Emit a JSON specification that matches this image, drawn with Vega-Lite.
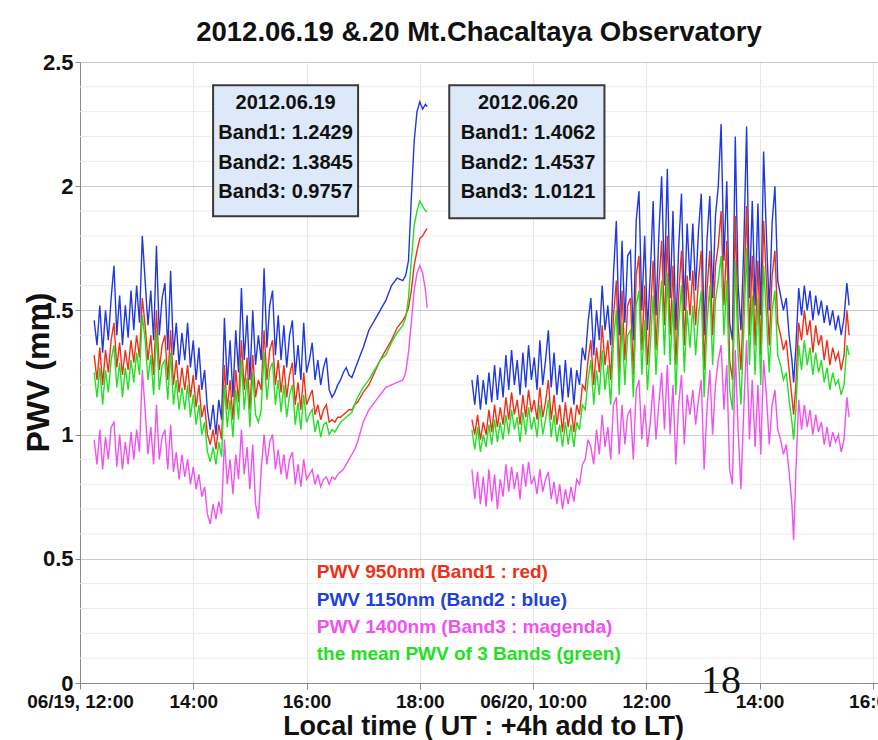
{
  "$schema": "https://vega.github.io/schema/vega-lite/v6.json",
  "width": 798,
  "height": 621,
  "autosize": {"type": "none"},
  "padding": {"left": 80, "top": 62, "right": 0, "bottom": 57},
  "background": "white",
  "title": {
    "text": "2012.06.19 &.20  Mt.Chacaltaya Observatory",
    "font": "Liberation Sans, Arial, sans-serif",
    "fontSize": 27.5,
    "fontWeight": "bold",
    "color": "#111111",
    "anchor": "middle",
    "offset": 5
  },
  "config": {
    "view": {"stroke": null},
    "axis": {"domainColor": "#8a8a8a", "tickColor": "#8a8a8a"}
  },
  "datasets": {
    "pwv": [
      {"day":1,"t":0.25,"band2":1.46,"band1":1.32,"mean":1.25,"band3":0.98},
      {"day":1,"t":0.30,"band2":1.36,"band1":1.22,"mean":1.15,"band3":0.88},
      {"day":1,"t":0.35,"band2":1.52,"band1":1.35,"mean":1.27,"band3":1.02},
      {"day":1,"t":0.40,"band2":1.33,"band1":1.20,"mean":1.12,"band3":0.86},
      {"day":1,"t":0.45,"band2":1.50,"band1":1.34,"mean":1.26,"band3":0.99},
      {"day":1,"t":0.50,"band2":1.38,"band1":1.25,"mean":1.17,"band3":0.90},
      {"day":1,"t":0.55,"band2":1.55,"band1":1.38,"mean":1.30,"band3":1.03},
      {"day":1,"t":0.60,"band2":1.68,"band1":1.45,"mean":1.36,"band3":1.05},
      {"day":1,"t":0.65,"band2":1.40,"band1":1.27,"mean":1.19,"band3":0.87},
      {"day":1,"t":0.70,"band2":1.56,"band1":1.37,"mean":1.29,"band3":1.00},
      {"day":1,"t":0.75,"band2":1.36,"band1":1.24,"mean":1.15,"band3":0.86},
      {"day":1,"t":0.80,"band2":1.52,"band1":1.34,"mean":1.27,"band3":0.97},
      {"day":1,"t":0.85,"band2":1.39,"band1":1.26,"mean":1.18,"band3":0.88},
      {"day":1,"t":0.90,"band2":1.58,"band1":1.38,"mean":1.30,"band3":1.01},
      {"day":1,"t":0.95,"band2":1.42,"band1":1.29,"mean":1.21,"band3":0.90},
      {"day":1,"t":1.00,"band2":1.60,"band1":1.40,"mean":1.33,"band3":1.02},
      {"day":1,"t":1.05,"band2":1.45,"band1":1.31,"mean":1.24,"band3":0.93},
      {"day":1,"t":1.10,"band2":1.80,"band1":1.55,"mean":1.48,"band3":1.26},
      {"day":1,"t":1.15,"band2":1.62,"band1":1.44,"mean":1.38,"band3":1.10},
      {"day":1,"t":1.20,"band2":1.44,"band1":1.30,"mean":1.22,"band3":0.92},
      {"day":1,"t":1.25,"band2":1.58,"band1":1.40,"mean":1.32,"band3":1.03},
      {"day":1,"t":1.30,"band2":1.38,"band1":1.24,"mean":1.16,"band3":0.88},
      {"day":1,"t":1.35,"band2":1.76,"band1":1.50,"mean":1.42,"band3":1.12},
      {"day":1,"t":1.40,"band2":1.40,"band1":1.26,"mean":1.18,"band3":0.90},
      {"day":1,"t":1.45,"band2":1.55,"band1":1.36,"mean":1.28,"band3":0.99},
      {"day":1,"t":1.50,"band2":1.61,"band1":1.40,"mean":1.30,"band3":1.02},
      {"day":1,"t":1.55,"band2":1.34,"band1":1.22,"mean":1.14,"band3":0.86},
      {"day":1,"t":1.60,"band2":1.66,"band1":1.42,"mean":1.33,"band3":1.04},
      {"day":1,"t":1.65,"band2":1.32,"band1":1.20,"mean":1.12,"band3":0.85},
      {"day":1,"t":1.70,"band2":1.45,"band1":1.30,"mean":1.22,"band3":0.93},
      {"day":1,"t":1.75,"band2":1.28,"band1":1.17,"mean":1.10,"band3":0.82},
      {"day":1,"t":1.80,"band2":1.41,"band1":1.27,"mean":1.19,"band3":0.92},
      {"day":1,"t":1.85,"band2":1.30,"band1":1.18,"mean":1.10,"band3":0.83},
      {"day":1,"t":1.90,"band2":1.45,"band1":1.28,"mean":1.20,"band3":0.90},
      {"day":1,"t":1.95,"band2":1.27,"band1":1.15,"mean":1.07,"band3":0.80},
      {"day":1,"t":2.00,"band2":1.38,"band1":1.24,"mean":1.16,"band3":0.87},
      {"day":1,"t":2.05,"band2":1.22,"band1":1.11,"mean":1.04,"band3":0.78},
      {"day":1,"t":2.10,"band2":1.35,"band1":1.20,"mean":1.12,"band3":0.84},
      {"day":1,"t":2.15,"band2":1.18,"band1":1.07,"mean":1.00,"band3":0.75},
      {"day":1,"t":2.20,"band2":1.26,"band1":1.12,"mean":1.05,"band3":0.79},
      {"day":1,"t":2.25,"band2":1.10,"band1":1.00,"mean":0.93,"band3":0.68},
      {"day":1,"t":2.30,"band2":1.02,"band1":0.96,"mean":0.89,"band3":0.64},
      {"day":1,"t":2.35,"band2":1.12,"band1":1.02,"mean":0.95,"band3":0.72},
      {"day":1,"t":2.40,"band2":1.00,"band1":0.94,"mean":0.88,"band3":0.66},
      {"day":1,"t":2.45,"band2":1.14,"band1":1.04,"mean":0.97,"band3":0.73},
      {"day":1,"t":2.50,"band2":1.06,"band1":0.98,"mean":0.91,"band3":0.68},
      {"day":1,"t":2.55,"band2":1.47,"band1":1.28,"mean":1.20,"band3":0.98},
      {"day":1,"t":2.60,"band2":1.20,"band1":1.10,"mean":1.03,"band3":0.80},
      {"day":1,"t":2.65,"band2":1.38,"band1":1.22,"mean":1.14,"band3":0.90},
      {"day":1,"t":2.70,"band2":1.15,"band1":1.06,"mean":0.99,"band3":0.76},
      {"day":1,"t":2.75,"band2":1.42,"band1":1.26,"mean":1.18,"band3":0.92},
      {"day":1,"t":2.80,"band2":1.25,"band1":1.13,"mean":1.06,"band3":0.82},
      {"day":1,"t":2.85,"band2":1.59,"band1":1.38,"mean":1.30,"band3":1.02},
      {"day":1,"t":2.90,"band2":1.30,"band1":1.18,"mean":1.10,"band3":0.84},
      {"day":1,"t":2.95,"band2":1.48,"band1":1.31,"mean":1.23,"band3":0.95},
      {"day":1,"t":3.00,"band2":1.22,"band1":1.10,"mean":1.03,"band3":0.78},
      {"day":1,"t":3.05,"band2":1.50,"band1":1.32,"mean":1.25,"band3":0.96},
      {"day":1,"t":3.10,"band2":1.28,"band1":1.15,"mean":1.08,"band3":0.72},
      {"day":1,"t":3.15,"band2":1.40,"band1":1.22,"mean":1.05,"band3":0.66},
      {"day":1,"t":3.20,"band2":1.30,"band1":1.18,"mean":1.10,"band3":0.86},
      {"day":1,"t":3.25,"band2":1.67,"band1":1.42,"mean":1.33,"band3":1.00},
      {"day":1,"t":3.30,"band2":1.35,"band1":1.22,"mean":1.14,"band3":0.88},
      {"day":1,"t":3.35,"band2":1.52,"band1":1.34,"mean":1.26,"band3":0.97},
      {"day":1,"t":3.40,"band2":1.58,"band1":1.38,"mean":1.29,"band3":1.00},
      {"day":1,"t":3.45,"band2":1.32,"band1":1.20,"mean":1.12,"band3":0.86},
      {"day":1,"t":3.50,"band2":1.48,"band1":1.30,"mean":1.22,"band3":0.94},
      {"day":1,"t":3.55,"band2":1.30,"band1":1.17,"mean":1.09,"band3":0.84},
      {"day":1,"t":3.60,"band2":1.44,"band1":1.28,"mean":1.20,"band3":0.92},
      {"day":1,"t":3.65,"band2":1.27,"band1":1.15,"mean":1.07,"band3":0.82},
      {"day":1,"t":3.70,"band2":1.40,"band1":1.24,"mean":1.16,"band3":0.90},
      {"day":1,"t":3.75,"band2":1.46,"band1":1.29,"mean":1.20,"band3":0.93},
      {"day":1,"t":3.80,"band2":1.24,"band1":1.12,"mean":1.04,"band3":0.80},
      {"day":1,"t":3.85,"band2":1.36,"band1":1.21,"mean":1.13,"band3":0.88},
      {"day":1,"t":3.90,"band2":1.22,"band1":1.10,"mean":1.02,"band3":0.79},
      {"day":1,"t":3.95,"band2":1.45,"band1":1.25,"mean":1.16,"band3":0.90},
      {"day":1,"t":4.00,"band2":1.25,"band1":1.12,"mean":1.05,"band3":0.82},
      {"day":1,"t":4.05,"band2":1.30,"band1":1.15,"mean":1.08,"band3":0.84},
      {"day":1,"t":4.10,"band2":1.37,"band1":1.18,"mean":1.10,"band3":0.86},
      {"day":1,"t":4.15,"band2":1.22,"band1":1.08,"mean":1.01,"band3":0.80},
      {"day":1,"t":4.20,"band2":1.30,"band1":1.12,"mean":1.06,"band3":0.84},
      {"day":1,"t":4.25,"band2":1.20,"band1":1.06,"mean":0.99,"band3":0.79},
      {"day":1,"t":4.30,"band2":1.27,"band1":1.10,"mean":1.04,"band3":0.82},
      {"day":1,"t":4.35,"band2":1.31,"band1":1.12,"mean":1.05,"band3":0.83},
      {"day":1,"t":4.40,"band2":1.18,"band1":1.05,"mean":1.00,"band3":0.80},
      {"day":1,"t":4.45,"band2":1.15,"band1":1.06,"mean":1.02,"band3":0.83},
      {"day":1,"t":4.50,"band2":1.17,"band1":1.05,"mean":1.01,"band3":0.82},
      {"day":1,"t":4.55,"band2":1.20,"band1":1.07,"mean":1.03,"band3":0.84},
      {"day":1,"t":4.60,"band2":1.22,"band1":1.07,"mean":1.05,"band3":0.85},
      {"day":1,"t":4.65,"band2":1.25,"band1":1.08,"mean":1.06,"band3":0.86},
      {"day":1,"t":4.70,"band2":1.27,"band1":1.09,"mean":1.07,"band3":0.88},
      {"day":1,"t":4.75,"band2":1.24,"band1":1.10,"mean":1.08,"band3":0.90},
      {"day":1,"t":4.80,"band2":1.23,"band1":1.10,"mean":1.09,"band3":0.92},
      {"day":1,"t":4.85,"band2":1.26,"band1":1.12,"mean":1.12,"band3":0.94},
      {"day":1,"t":4.90,"band2":1.29,"band1":1.13,"mean":1.15,"band3":0.97},
      {"day":1,"t":4.95,"band2":1.32,"band1":1.15,"mean":1.17,"band3":1.01},
      {"day":1,"t":5.00,"band2":1.35,"band1":1.17,"mean":1.19,"band3":1.05},
      {"day":1,"t":5.10,"band2":1.42,"band1":1.20,"mean":1.22,"band3":1.10},
      {"day":1,"t":5.20,"band2":1.46,"band1":1.25,"mean":1.26,"band3":1.13},
      {"day":1,"t":5.30,"band2":1.50,"band1":1.30,"mean":1.30,"band3":1.16},
      {"day":1,"t":5.40,"band2":1.54,"band1":1.34,"mean":1.32,"band3":1.19},
      {"day":1,"t":5.50,"band2":1.60,"band1":1.38,"mean":1.37,"band3":1.20},
      {"day":1,"t":5.60,"band2":1.63,"band1":1.43,"mean":1.41,"band3":1.21},
      {"day":1,"t":5.70,"band2":1.62,"band1":1.46,"mean":1.44,"band3":1.22},
      {"day":1,"t":5.75,"band2":1.64,"band1":1.48,"mean":1.47,"band3":1.25},
      {"day":1,"t":5.80,"band2":1.70,"band1":1.51,"mean":1.55,"band3":1.33},
      {"day":1,"t":5.85,"band2":1.95,"band1":1.58,"mean":1.70,"band3":1.45},
      {"day":1,"t":5.90,"band2":2.18,"band1":1.68,"mean":1.84,"band3":1.58},
      {"day":1,"t":5.95,"band2":2.30,"band1":1.74,"mean":1.90,"band3":1.65},
      {"day":1,"t":6.00,"band2":2.34,"band1":1.79,"mean":1.94,"band3":1.68},
      {"day":1,"t":6.05,"band2":2.31,"band1":1.80,"mean":1.92,"band3":1.65},
      {"day":1,"t":6.10,"band2":2.33,"band1":1.82,"mean":1.90,"band3":1.58},
      {"day":1,"t":6.13,"band2":2.32,"band1":1.83,"mean":1.90,"band3":1.51},
      {"day":2,"t":6.92,"band2":1.22,"band1":1.06,"mean":1.02,"band3":0.86},
      {"day":2,"t":6.97,"band2":1.12,"band1":1.00,"mean":0.94,"band3":0.74},
      {"day":2,"t":7.02,"band2":1.24,"band1":1.08,"mean":1.03,"band3":0.85},
      {"day":2,"t":7.07,"band2":1.10,"band1":0.98,"mean":0.93,"band3":0.72},
      {"day":2,"t":7.12,"band2":1.22,"band1":1.05,"mean":1.00,"band3":0.83},
      {"day":2,"t":7.17,"band2":1.12,"band1":1.00,"mean":0.95,"band3":0.71},
      {"day":2,"t":7.22,"band2":1.25,"band1":1.10,"mean":1.04,"band3":0.86},
      {"day":2,"t":7.27,"band2":1.13,"band1":1.01,"mean":0.96,"band3":0.73},
      {"day":2,"t":7.32,"band2":1.28,"band1":1.12,"mean":1.06,"band3":0.84},
      {"day":2,"t":7.37,"band2":1.14,"band1":1.03,"mean":0.97,"band3":0.70},
      {"day":2,"t":7.42,"band2":1.27,"band1":1.11,"mean":1.05,"band3":0.82},
      {"day":2,"t":7.47,"band2":1.15,"band1":1.04,"mean":0.98,"band3":0.75},
      {"day":2,"t":7.52,"band2":1.32,"band1":1.15,"mean":1.08,"band3":0.88},
      {"day":2,"t":7.57,"band2":1.18,"band1":1.06,"mean":1.00,"band3":0.77},
      {"day":2,"t":7.62,"band2":1.34,"band1":1.17,"mean":1.10,"band3":0.87},
      {"day":2,"t":7.67,"band2":1.20,"band1":1.08,"mean":1.02,"band3":0.78},
      {"day":2,"t":7.72,"band2":1.30,"band1":1.14,"mean":1.07,"band3":0.85},
      {"day":2,"t":7.77,"band2":1.16,"band1":1.04,"mean":0.97,"band3":0.74},
      {"day":2,"t":7.82,"band2":1.33,"band1":1.16,"mean":1.09,"band3":0.88},
      {"day":2,"t":7.87,"band2":1.19,"band1":1.07,"mean":1.00,"band3":0.79},
      {"day":2,"t":7.92,"band2":1.36,"band1":1.18,"mean":1.11,"band3":0.89},
      {"day":2,"t":7.97,"band2":1.22,"band1":1.09,"mean":1.02,"band3":0.80},
      {"day":2,"t":8.02,"band2":1.31,"band1":1.14,"mean":1.07,"band3":0.83},
      {"day":2,"t":8.07,"band2":1.18,"band1":1.06,"mean":0.99,"band3":0.76},
      {"day":2,"t":8.12,"band2":1.38,"band1":1.19,"mean":1.12,"band3":0.86},
      {"day":2,"t":8.17,"band2":1.20,"band1":1.07,"mean":1.00,"band3":0.77},
      {"day":2,"t":8.22,"band2":1.30,"band1":1.13,"mean":1.06,"band3":0.82},
      {"day":2,"t":8.27,"band2":1.42,"band1":1.22,"mean":1.14,"band3":0.85},
      {"day":2,"t":8.32,"band2":1.19,"band1":1.06,"mean":0.99,"band3":0.74},
      {"day":2,"t":8.37,"band2":1.33,"band1":1.16,"mean":1.08,"band3":0.81},
      {"day":2,"t":8.42,"band2":1.16,"band1":1.04,"mean":0.97,"band3":0.72},
      {"day":2,"t":8.47,"band2":1.28,"band1":1.12,"mean":1.04,"band3":0.80},
      {"day":2,"t":8.52,"band2":1.13,"band1":1.01,"mean":0.95,"band3":0.70},
      {"day":2,"t":8.57,"band2":1.30,"band1":1.13,"mean":1.05,"band3":0.78},
      {"day":2,"t":8.62,"band2":1.15,"band1":1.03,"mean":0.96,"band3":0.72},
      {"day":2,"t":8.67,"band2":1.27,"band1":1.11,"mean":1.04,"band3":0.79},
      {"day":2,"t":8.72,"band2":1.12,"band1":1.01,"mean":0.95,"band3":0.73},
      {"day":2,"t":8.77,"band2":1.26,"band1":1.12,"mean":1.05,"band3":0.82},
      {"day":2,"t":8.82,"band2":1.20,"band1":1.08,"mean":1.02,"band3":0.80},
      {"day":2,"t":8.87,"band2":1.35,"band1":1.20,"mean":1.12,"band3":0.88},
      {"day":2,"t":8.92,"band2":1.30,"band1":1.18,"mean":1.10,"band3":0.90},
      {"day":2,"t":8.97,"band2":1.45,"band1":1.30,"mean":1.22,"band3":0.98},
      {"day":2,"t":9.02,"band2":1.55,"band1":1.38,"mean":1.30,"band3":0.95},
      {"day":2,"t":9.07,"band2":1.32,"band1":1.20,"mean":1.12,"band3":0.88},
      {"day":2,"t":9.12,"band2":1.50,"band1":1.35,"mean":1.26,"band3":1.02},
      {"day":2,"t":9.17,"band2":1.38,"band1":1.25,"mean":1.16,"band3":0.92},
      {"day":2,"t":9.22,"band2":1.60,"band1":1.44,"mean":1.34,"band3":1.08},
      {"day":2,"t":9.27,"band2":1.42,"band1":1.28,"mean":1.18,"band3":0.95},
      {"day":2,"t":9.32,"band2":1.52,"band1":1.38,"mean":1.28,"band3":1.03},
      {"day":2,"t":9.37,"band2":1.36,"band1":1.22,"mean":1.12,"band3":0.90},
      {"day":2,"t":9.42,"band2":1.65,"band1":1.48,"mean":1.38,"band3":1.12},
      {"day":2,"t":9.47,"band2":1.86,"band1":1.62,"mean":1.50,"band3":1.15},
      {"day":2,"t":9.52,"band2":1.40,"band1":1.25,"mean":1.16,"band3":0.92},
      {"day":2,"t":9.57,"band2":1.78,"band1":1.58,"mean":1.45,"band3":1.12},
      {"day":2,"t":9.62,"band2":1.45,"band1":1.30,"mean":1.20,"band3":0.96},
      {"day":2,"t":9.67,"band2":1.72,"band1":1.52,"mean":1.40,"band3":1.08},
      {"day":2,"t":9.72,"band2":1.74,"band1":1.55,"mean":1.42,"band3":1.10},
      {"day":2,"t":9.77,"band2":1.38,"band1":1.24,"mean":1.15,"band3":0.90},
      {"day":2,"t":9.82,"band2":1.86,"band1":1.64,"mean":1.52,"band3":1.18},
      {"day":2,"t":9.87,"band2":1.98,"band1":1.72,"mean":1.58,"band3":1.22},
      {"day":2,"t":9.92,"band2":1.50,"band1":1.34,"mean":1.24,"band3":0.98},
      {"day":2,"t":9.97,"band2":1.80,"band1":1.60,"mean":1.46,"band3":1.12},
      {"day":2,"t":10.02,"band2":1.42,"band1":1.28,"mean":1.18,"band3":0.95},
      {"day":2,"t":10.07,"band2":1.65,"band1":1.48,"mean":1.36,"band3":1.05},
      {"day":2,"t":10.12,"band2":1.94,"band1":1.70,"mean":1.56,"band3":1.20},
      {"day":2,"t":10.17,"band2":1.48,"band1":1.34,"mean":1.24,"band3":0.98},
      {"day":2,"t":10.22,"band2":1.80,"band1":1.60,"mean":1.46,"band3":1.12},
      {"day":2,"t":10.27,"band2":2.04,"band1":1.78,"mean":1.62,"band3":1.25},
      {"day":2,"t":10.32,"band2":1.60,"band1":1.44,"mean":1.32,"band3":1.02},
      {"day":2,"t":10.37,"band2":2.07,"band1":1.80,"mean":1.65,"band3":1.28},
      {"day":2,"t":10.42,"band2":1.55,"band1":1.40,"mean":1.28,"band3":1.00},
      {"day":2,"t":10.47,"band2":1.90,"band1":1.68,"mean":1.54,"band3":1.20},
      {"day":2,"t":10.52,"band2":1.42,"band1":1.28,"mean":1.16,"band3":0.88},
      {"day":2,"t":10.57,"band2":1.75,"band1":1.56,"mean":1.44,"band3":1.12},
      {"day":2,"t":10.62,"band2":1.97,"band1":1.74,"mean":1.60,"band3":1.24},
      {"day":2,"t":10.67,"band2":1.50,"band1":1.36,"mean":1.25,"band3":0.96},
      {"day":2,"t":10.72,"band2":1.85,"band1":1.64,"mean":1.50,"band3":1.16},
      {"day":2,"t":10.77,"band2":1.62,"band1":1.48,"mean":1.35,"band3":1.08},
      {"day":2,"t":10.82,"band2":1.85,"band1":1.66,"mean":1.52,"band3":1.18},
      {"day":2,"t":10.87,"band2":1.58,"band1":1.44,"mean":1.32,"band3":1.04},
      {"day":2,"t":10.92,"band2":1.82,"band1":1.62,"mean":1.48,"band3":1.14},
      {"day":2,"t":10.97,"band2":1.97,"band1":1.74,"mean":1.58,"band3":1.22},
      {"day":2,"t":11.02,"band2":1.40,"band1":1.26,"mean":1.15,"band3":0.86},
      {"day":2,"t":11.07,"band2":1.78,"band1":1.58,"mean":1.44,"band3":1.10},
      {"day":2,"t":11.12,"band2":1.96,"band1":1.74,"mean":1.60,"band3":1.26},
      {"day":2,"t":11.17,"band2":1.55,"band1":1.40,"mean":1.28,"band3":1.00},
      {"day":2,"t":11.22,"band2":1.88,"band1":1.68,"mean":1.54,"band3":1.20},
      {"day":2,"t":11.27,"band2":2.00,"band1":1.76,"mean":1.62,"band3":1.30},
      {"day":2,"t":11.32,"band2":2.25,"band1":1.90,"mean":1.72,"band3":1.36},
      {"day":2,"t":11.37,"band2":1.70,"band1":1.52,"mean":1.40,"band3":1.10},
      {"day":2,"t":11.42,"band2":2.02,"band1":1.78,"mean":1.62,"band3":1.28},
      {"day":2,"t":11.47,"band2":1.45,"band1":1.30,"mean":1.18,"band3":0.86},
      {"day":2,"t":11.52,"band2":1.38,"band1":1.22,"mean":1.10,"band3":0.80},
      {"day":2,"t":11.57,"band2":2.20,"band1":1.88,"mean":1.70,"band3":1.34},
      {"day":2,"t":11.62,"band2":1.60,"band1":1.44,"mean":1.32,"band3":1.02},
      {"day":2,"t":11.67,"band2":1.42,"band1":1.26,"mean":1.12,"band3":0.78},
      {"day":2,"t":11.72,"band2":1.75,"band1":1.56,"mean":1.42,"band3":1.10},
      {"day":2,"t":11.77,"band2":2.24,"band1":1.92,"mean":1.75,"band3":1.38},
      {"day":2,"t":11.82,"band2":1.55,"band1":1.40,"mean":1.28,"band3":0.98},
      {"day":2,"t":11.87,"band2":1.94,"band1":1.72,"mean":1.56,"band3":1.22},
      {"day":2,"t":11.92,"band2":1.52,"band1":1.36,"mean":1.24,"band3":0.95},
      {"day":2,"t":11.97,"band2":1.93,"band1":1.70,"mean":1.55,"band3":1.20},
      {"day":2,"t":12.02,"band2":1.48,"band1":1.32,"mean":1.20,"band3":0.92},
      {"day":2,"t":12.07,"band2":2.14,"band1":1.86,"mean":1.68,"band3":1.30},
      {"day":2,"t":12.12,"band2":1.80,"band1":1.62,"mean":1.48,"band3":1.16},
      {"day":2,"t":12.17,"band2":1.50,"band1":1.36,"mean":1.25,"band3":0.96},
      {"day":2,"t":12.22,"band2":1.85,"band1":1.64,"mean":1.50,"band3":1.12},
      {"day":2,"t":12.27,"band2":2.00,"band1":1.74,"mean":1.58,"band3":1.18},
      {"day":2,"t":12.32,"band2":1.62,"band1":1.45,"mean":1.32,"band3":1.02},
      {"day":2,"t":12.37,"band2":1.56,"band1":1.40,"mean":1.28,"band3":0.98},
      {"day":2,"t":12.42,"band2":1.50,"band1":1.34,"mean":1.22,"band3":0.92},
      {"day":2,"t":12.47,"band2":1.55,"band1":1.38,"mean":1.25,"band3":0.96},
      {"day":2,"t":12.52,"band2":1.40,"band1":1.26,"mean":1.14,"band3":0.85},
      {"day":2,"t":12.57,"band2":1.30,"band1":1.15,"mean":1.05,"band3":0.72},
      {"day":2,"t":12.60,"band2":1.21,"band1":1.08,"mean":0.98,"band3":0.575},
      {"day":2,"t":12.64,"band2":1.35,"band1":1.20,"mean":1.10,"band3":0.85},
      {"day":2,"t":12.69,"band2":1.59,"band1":1.45,"mean":1.36,"band3":1.14},
      {"day":2,"t":12.74,"band2":1.48,"band1":1.38,"mean":1.26,"band3":1.02},
      {"day":2,"t":12.79,"band2":1.60,"band1":1.50,"mean":1.38,"band3":1.12},
      {"day":2,"t":12.84,"band2":1.50,"band1":1.40,"mean":1.28,"band3":1.03},
      {"day":2,"t":12.89,"band2":1.58,"band1":1.46,"mean":1.35,"band3":1.10},
      {"day":2,"t":12.94,"band2":1.46,"band1":1.33,"mean":1.24,"band3":1.00},
      {"day":2,"t":12.99,"band2":1.56,"band1":1.44,"mean":1.33,"band3":1.08},
      {"day":2,"t":13.04,"band2":1.48,"band1":1.36,"mean":1.25,"band3":1.01},
      {"day":2,"t":13.09,"band2":1.54,"band1":1.40,"mean":1.30,"band3":1.05},
      {"day":2,"t":13.14,"band2":1.45,"band1":1.30,"mean":1.21,"band3":0.96},
      {"day":2,"t":13.19,"band2":1.52,"band1":1.38,"mean":1.27,"band3":1.03},
      {"day":2,"t":13.24,"band2":1.44,"band1":1.28,"mean":1.18,"band3":0.95},
      {"day":2,"t":13.29,"band2":1.50,"band1":1.35,"mean":1.25,"band3":1.01},
      {"day":2,"t":13.34,"band2":1.42,"band1":1.30,"mean":1.20,"band3":0.97},
      {"day":2,"t":13.39,"band2":1.48,"band1":1.33,"mean":1.22,"band3":1.00},
      {"day":2,"t":13.44,"band2":1.40,"band1":1.26,"mean":1.16,"band3":0.93},
      {"day":2,"t":13.49,"band2":1.47,"band1":1.32,"mean":1.20,"band3":0.98},
      {"day":2,"t":13.54,"band2":1.61,"band1":1.50,"mean":1.36,"band3":1.15},
      {"day":2,"t":13.58,"band2":1.52,"band1":1.40,"mean":1.32,"band3":1.07}
    ],
    "minorgrid": [
      {"v":0.1},{"v":0.2},{"v":0.3},{"v":0.4},{"v":0.6},{"v":0.7},{"v":0.8},{"v":0.9},
      {"v":1.1},{"v":1.2},{"v":1.3},{"v":1.4},{"v":1.6},{"v":1.7},{"v":1.8},{"v":1.9},
      {"v":2.1},{"v":2.2},{"v":2.3},{"v":2.4}
    ],
    "boxes": [
      {"t1":2.35,"t2":4.91,"v1":1.879,"v2":2.406},
      {"t1":6.52,"t2":9.26,"v1":1.871,"v2":2.406}
    ],
    "boxtext": [
      {"t":3.63,"v":2.335,"txt":"2012.06.19"},
      {"t":3.63,"v":2.214,"txt":"Band1: 1.2429"},
      {"t":3.63,"v":2.093,"txt":"Band2: 1.3845"},
      {"t":3.63,"v":1.977,"txt":"Band3: 0.9757"},
      {"t":7.91,"v":2.335,"txt":"2012.06.20"},
      {"t":7.91,"v":2.214,"txt":"Band1: 1.4062"},
      {"t":7.91,"v":2.093,"txt":"Band2: 1.4537"},
      {"t":7.91,"v":1.977,"txt":"Band3: 1.0121"}
    ],
    "legend": [
      {"t":4.18,"v":0.447,"txt":"PWV 950nm (Band1 : red)","series":"band1"},
      {"t":4.18,"v":0.334,"txt":"PWV 1150nm (Band2 : blue)","series":"band2"},
      {"t":4.18,"v":0.2254,"txt":"PWV 1400nm (Band3 : magenda)","series":"band3"},
      {"t":4.18,"v":0.1167,"txt":"the mean PWV of 3 Bands (green)","series":"mean"}
    ],
    "page": [
      {"t":11.32,"v":0.01,"txt":"18"}
    ]
  },
  "layer": [
    {
      "data": {"name": "minorgrid"},
      "mark": {"type": "rule", "color": "#ececec", "strokeWidth": 1},
      "encoding": {
        "y": {"field": "v", "type": "quantitative"}
      }
    },
    {
      "data": {"name": "pwv"},
      "mark": {"type": "line", "color": "#2038e0", "strokeWidth": 1.4, "clip": true},
      "encoding": {
        "x": {
          "field": "t", "type": "quantitative",
          "scale": {"domain": [0, 14.09], "nice": false, "zero": false},
          "axis": {
            "title": "Local time ( UT : +4h add to LT)",
            "titleFont": "Liberation Sans, Arial, sans-serif",
            "titleFontSize": 27,
            "titleFontWeight": "bold",
            "titleColor": "#111111",
            "titleX": 403,
            "titleY": 51,
            "titleBaseline": "alphabetic",
            "titleAlign": "center",
            "values": [0,2,4,6,8,10,12,14],
            "labelExpr": "datum.value==0?'06/19, 12:00':datum.value==2?'14:00':datum.value==4?'16:00':datum.value==6?'18:00':datum.value==8?'06/20, 10:00':datum.value==10?'12:00':datum.value==12?'14:00':'16:00'",
            "labelFont": "Liberation Sans, Arial, sans-serif",
            "labelFontSize": 19,
            "labelFontWeight": "bold",
            "labelColor": "#111111",
            "labelOverlap": false,
            "labelFlush": false,
            "labelBound": false,
            "labelPadding": 3,
            "tickSize": 6,
            "grid": true,
            "gridColor": "#e6e6e6"
          }
        },
        "y": {
          "field": "band2", "type": "quantitative",
          "scale": {"domain": [0, 2.5], "nice": false},
          "axis": {
            "title": "PWV (mm)",
            "titleFont": "Liberation Sans, Arial, sans-serif",
            "titleFontSize": 32,
            "titleFontWeight": "bold",
            "titleColor": "#111111",
            "titleX": -25,
            "titleY": 310,
            "titleAngle": -90,
            "titleBaseline": "bottom",
            "values": [0, 0.5, 1, 1.5, 2, 2.5],
            "format": "~g",
            "labelFont": "Liberation Sans, Arial, sans-serif",
            "labelFontSize": 22,
            "labelFontWeight": "bold",
            "labelColor": "#111111",
            "labelPadding": 2,
            "labelOverlap": false,
            "labelBound": false,
            "labelFlush": false,
            "tickSize": 5,
            "grid": true,
            "gridColor": "#9a9a9a",
            "gridDash": [1, 1]
          }
        },
        "detail": {"field": "day", "type": "nominal"}
      }
    },
    {
      "data": {"name": "pwv"},
      "mark": {"type": "line", "color": "#ee3018", "strokeWidth": 1.4, "clip": true},
      "encoding": {
        "x": {"field": "t", "type": "quantitative"},
        "y": {"field": "band1", "type": "quantitative"},
        "detail": {"field": "day", "type": "nominal"}
      }
    },
    {
      "data": {"name": "pwv"},
      "mark": {"type": "line", "color": "#22e022", "strokeWidth": 1.4, "clip": true},
      "encoding": {
        "x": {"field": "t", "type": "quantitative"},
        "y": {"field": "mean", "type": "quantitative"},
        "detail": {"field": "day", "type": "nominal"}
      }
    },
    {
      "data": {"name": "pwv"},
      "mark": {"type": "line", "color": "#f052f0", "strokeWidth": 1.4, "clip": true},
      "encoding": {
        "x": {"field": "t", "type": "quantitative"},
        "y": {"field": "band3", "type": "quantitative"},
        "detail": {"field": "day", "type": "nominal"}
      }
    },
    {
      "data": {"name": "boxes"},
      "mark": {"type": "rect", "fill": "#dde9f8", "stroke": "#3a3a3a", "strokeWidth": 2},
      "encoding": {
        "x": {"field": "t1", "type": "quantitative"},
        "x2": {"field": "t2"},
        "y": {"field": "v1", "type": "quantitative"},
        "y2": {"field": "v2"}
      }
    },
    {
      "data": {"name": "boxtext"},
      "mark": {"type": "text", "font": "Liberation Sans, Arial, sans-serif", "fontSize": 20, "fontWeight": "bold", "color": "#111111", "align": "center", "baseline": "middle"},
      "encoding": {
        "x": {"field": "t", "type": "quantitative"},
        "y": {"field": "v", "type": "quantitative"},
        "text": {"field": "txt"}
      }
    },
    {
      "data": {"name": "legend"},
      "mark": {"type": "text", "font": "Liberation Sans, Arial, sans-serif", "fontSize": 19, "fontWeight": "bold", "align": "left", "baseline": "middle"},
      "encoding": {
        "x": {"field": "t", "type": "quantitative"},
        "y": {"field": "v", "type": "quantitative"},
        "text": {"field": "txt"},
        "color": {
          "field": "series", "type": "nominal",
          "scale": {"domain": ["band1", "band2", "band3", "mean"], "range": ["#ee3018", "#2040dc", "#f052f0", "#22e022"]},
          "legend": null
        }
      }
    },
    {
      "data": {"name": "page"},
      "mark": {"type": "text", "font": "Liberation Serif, Times New Roman, serif", "fontSize": 40, "color": "#111111", "align": "center", "baseline": "middle"},
      "encoding": {
        "x": {"field": "t", "type": "quantitative"},
        "y": {"field": "v", "type": "quantitative"},
        "text": {"field": "txt"}
      }
    }
  ]
}
